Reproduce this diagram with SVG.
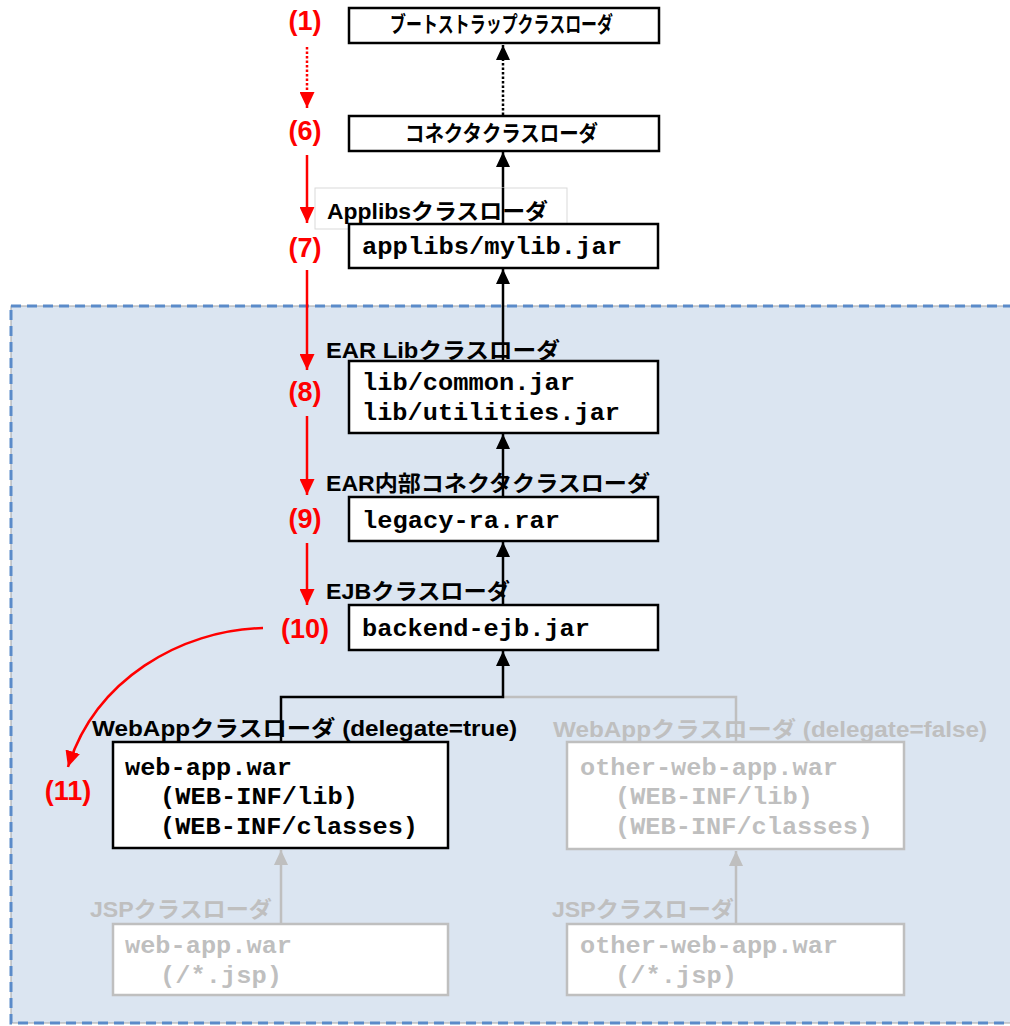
<svg xmlns="http://www.w3.org/2000/svg" width="1010" height="1026" viewBox="0 0 1010 1026">
<defs>
<style>
.box{fill:#fff;stroke:#000;stroke-width:2.5}
.gbox{fill:#fff;stroke:#bfbfbf;stroke-width:2.5}
.lbl{font-family:"Liberation Sans","Noto Sans CJK JP",sans-serif;font-weight:bold;font-size:22px;fill:#000}
.glbl{font-family:"Liberation Sans","Noto Sans CJK JP",sans-serif;font-weight:bold;font-size:22px;fill:#bfbfbf}
.mono{font-family:"Liberation Mono","Courier New",monospace;font-weight:bold;font-size:23px;fill:#000}
.gmono{font-family:"Liberation Mono","Courier New",monospace;font-weight:bold;font-size:23px;fill:#bfbfbf}
.num{font-family:"Liberation Sans",Arial,sans-serif;font-weight:bold;font-size:27px;fill:#ff0000;text-anchor:middle}
.bl{fill:none;stroke:#000;stroke-width:2.5}
.gl{fill:none;stroke:#bfbfbf;stroke-width:2.5}
.rl{fill:none;stroke:#ff0000;stroke-width:2.5}
.dot{stroke-dasharray:2.5 2}
</style>
<marker id="ab" markerUnits="userSpaceOnUse" markerWidth="15" markerHeight="14" refX="15" refY="7" orient="auto"><path d="M0,0 L15,7 L0,14 z" fill="#000"/></marker>
<marker id="ag" markerUnits="userSpaceOnUse" markerWidth="15" markerHeight="14" refX="15" refY="7" orient="auto"><path d="M0,0 L15,7 L0,14 z" fill="#bfbfbf"/></marker>
<marker id="ar" markerUnits="userSpaceOnUse" markerWidth="16" markerHeight="15" refX="16" refY="7.5" orient="auto"><path d="M0,0 L16,7.5 L0,15 z" fill="#ff0000"/></marker>
</defs>
<rect width="1010" height="1026" fill="#fff"/>
<g id="ear-region">
<rect x="11" y="306" width="1010" height="717" fill="#dbe5f1" stroke="#a6a6a6" stroke-width="1"/>
<rect x="11" y="306" width="1010" height="717" fill="none" stroke="#5b8bc9" stroke-width="3" stroke-dasharray="10 6"/>
</g>
<g id="connectors">
<path class="gl" d="M503,697 L736,697 L736,742"/>
<path class="gl" d="M281,924 L281,850" marker-end="url(#ag)"/>
<path class="gl" d="M736,924 L736,851" marker-end="url(#ag)"/>
<path class="bl dot" d="M503,115 L503,45" marker-end="url(#ab)"/>
<path class="bl" d="M503,224 L503,152" marker-end="url(#ab)"/>
<path class="bl" d="M503,361 L503,269" marker-end="url(#ab)"/>
<path class="bl" d="M503,497 L503,434" marker-end="url(#ab)"/>
<path class="bl" d="M503,605 L503,542" marker-end="url(#ab)"/>
<path class="bl" d="M281,742 L281,697 L503,697 L503,651" marker-end="url(#ab)"/>
<path class="rl dot" d="M307,47 L307,108" marker-end="url(#ar)"/>
<path class="rl" d="M307,155 L307,223" marker-end="url(#ar)"/>
<path class="rl" d="M307,270 L307,370" marker-end="url(#ar)"/>
<path class="rl" d="M307,416 L307,495" marker-end="url(#ar)"/>
<path class="rl" d="M307,543 L307,605" marker-end="url(#ar)"/>
<path class="rl" d="M263,628 C180,630 95,680 68,767" marker-end="url(#ar)"/>
</g>
<g id="steps">
<text class="num" x="305" y="30">(1)</text>
<text class="num" x="305" y="140">(6)</text>
<text class="num" x="305" y="257">(7)</text>
<text class="num" x="305" y="401">(8)</text>
<text class="num" x="305" y="528">(9)</text>
<text class="num" x="305" y="638">(10)</text>
<text class="num" x="68" y="800">(11)</text>
</g>
<g id="bootstrap">
<rect class="box" x="349" y="8" width="310" height="35"/>
<text class="lbl" x="390" y="32" font-size="16" textLength="223" lengthAdjust="spacingAndGlyphs">ブートストラップクラスローダ</text>
</g>
<g id="connector-loader">
<rect class="box" x="349" y="116" width="310" height="35"/>
<text class="lbl" x="405" y="141" font-size="19" textLength="193" lengthAdjust="spacingAndGlyphs">コネクタクラスローダ</text>
</g>
<g id="applibs">
<rect x="315" y="188" width="252" height="41" fill="#fff" stroke="#d9d9d9" stroke-width="1"/>
<path class="bl" d="M503,188 L503,224"/>
<text class="lbl" x="327" y="219" textLength="221" lengthAdjust="spacingAndGlyphs">Applibsクラスローダ</text>
<rect class="box" x="349" y="224" width="309" height="44"/>
<text class="mono" x="362" y="254" textLength="260" lengthAdjust="spacingAndGlyphs">applibs/mylib.jar</text>
</g>
<g id="ear-lib">
<text class="lbl" x="326" y="358" textLength="234" lengthAdjust="spacingAndGlyphs">EAR Libクラスローダ</text>
<rect class="box" x="349" y="361" width="309" height="72"/>
<text class="mono" x="362" y="390" textLength="213" lengthAdjust="spacingAndGlyphs">lib/common.jar</text>
<text class="mono" x="362" y="420" textLength="258" lengthAdjust="spacingAndGlyphs">lib/utilities.jar</text>
</g>
<g id="ear-connector">
<text class="lbl" x="326" y="491" textLength="324" lengthAdjust="spacingAndGlyphs">EAR内部コネクタクラスローダ</text>
<rect class="box" x="349" y="497" width="309" height="44"/>
<text class="mono" x="362" y="528" textLength="198" lengthAdjust="spacingAndGlyphs">legacy-ra.rar</text>
</g>
<g id="ejb">
<text class="lbl" x="326" y="599" textLength="184" lengthAdjust="spacingAndGlyphs">EJBクラスローダ</text>
<rect class="box" x="349" y="605" width="309" height="45"/>
<text class="mono" x="362" y="636" textLength="228" lengthAdjust="spacingAndGlyphs">backend-ejb.jar</text>
</g>
<g id="webapp">
<text class="lbl" x="92" y="736" textLength="425" lengthAdjust="spacingAndGlyphs">WebAppクラスローダ (delegate=true)</text>
<rect class="box" x="113" y="742" width="335" height="106"/>
<text class="mono" x="125" y="775" textLength="167" lengthAdjust="spacingAndGlyphs">web-app.war</text>
<text class="mono" x="160" y="804" textLength="198" lengthAdjust="spacingAndGlyphs">(WEB-INF/lib)</text>
<text class="mono" x="160" y="834" textLength="258" lengthAdjust="spacingAndGlyphs">(WEB-INF/classes)</text>
</g>
<g id="other-webapp">
<text class="glbl" x="553" y="737" textLength="434" lengthAdjust="spacingAndGlyphs">WebAppクラスローダ (delegate=false)</text>
<rect class="gbox" x="567" y="742" width="337" height="107"/>
<text class="gmono" x="580" y="775" textLength="258" lengthAdjust="spacingAndGlyphs">other-web-app.war</text>
<text class="gmono" x="615" y="804" textLength="198" lengthAdjust="spacingAndGlyphs">(WEB-INF/lib)</text>
<text class="gmono" x="615" y="834" textLength="258" lengthAdjust="spacingAndGlyphs">(WEB-INF/classes)</text>
</g>
<g id="jsp">
<text class="glbl" x="90" y="917" textLength="182" lengthAdjust="spacingAndGlyphs">JSPクラスローダ</text>
<rect class="gbox" x="113" y="924" width="335" height="71"/>
<text class="gmono" x="125" y="953" textLength="167" lengthAdjust="spacingAndGlyphs">web-app.war</text>
<text class="gmono" x="160" y="983" textLength="122" lengthAdjust="spacingAndGlyphs">(/*.jsp)</text>
</g>
<g id="other-jsp">
<text class="glbl" x="552" y="917" textLength="182" lengthAdjust="spacingAndGlyphs">JSPクラスローダ</text>
<rect class="gbox" x="567" y="924" width="337" height="71"/>
<text class="gmono" x="580" y="953" textLength="258" lengthAdjust="spacingAndGlyphs">other-web-app.war</text>
<text class="gmono" x="615" y="983" textLength="122" lengthAdjust="spacingAndGlyphs">(/*.jsp)</text>
</g>
</svg>
